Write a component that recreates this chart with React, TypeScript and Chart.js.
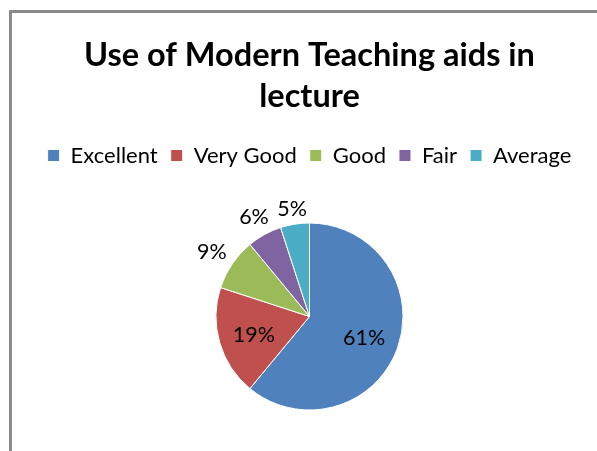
import React, { useEffect, useRef } from "react";
import { Chart, registerables } from "chart.js";

Chart.register(...registerables);

const categories = ["Excellent", "Very Good", "Good", "Fair", "Average"];
const values = [61, 19, 9, 6, 5];
const labelTexts = ["61%", "19%", "9%", "6%", "5%"];
const labelOutside = [false, false, true, true, true];
const colors = ["#4F81BD", "#C0504D", "#9BBB59", "#8064A2", "#4BACC6"];
const titleLines = ["Use of Modern Teaching aids in", "lecture"];

const FONT = "Lato, 'Liberation Sans', sans-serif";

const labelPlugin = {
  id: "sliceLabels",
  afterDatasetsDraw(chart: any) {
    const ctx = chart.ctx;
    const meta = chart.getDatasetMeta(0);
    ctx.save();
    ctx.font = `21.5px ${FONT}`;
    ctx.fillStyle = "#000";
    ctx.textAlign = "center";
    ctx.textBaseline = "middle";
    meta.data.forEach((arc: any, i: number) => {
      const p = arc.getProps(["x", "y", "startAngle", "endAngle", "outerRadius"], true);
      const mid = (p.startAngle + p.endAngle) / 2;
      const cx = Math.cos(mid);
      const cy = Math.sin(mid);
      const text = labelTexts[i];
      let d: number;
      if (labelOutside[i]) {
        const w = ctx.measureText(text).width;
        const h = 15;
        d = p.outerRadius + 8 + Math.abs(cx) * (w / 2) + Math.abs(cy) * (h / 2);
      } else {
        d = p.outerRadius * 0.62;
      }
      ctx.fillText(text, p.x + cx * d, p.y + cy * d + 2);
    });
    ctx.restore();
  },
};

export default function App() {
  const ref = useRef<HTMLCanvasElement | null>(null);
  useEffect(() => {
    if (!ref.current) return;
    const chart = new Chart(ref.current, {
      type: "pie",
      data: {
        labels: categories,
        datasets: [
          {
            data: values,
            backgroundColor: colors,
            borderColor: "#ffffff",
            borderWidth: 1,
            radius: 93.5,
          } as any,
        ],
      },
      options: {
        responsive: false,
        animation: false,
        layout: { padding: { top: 0, bottom: 36.5, left: 0, right: 0 } },
        plugins: {
          title: {
            display: true,
            text: titleLines,
            color: "#000",
            font: { family: FONT, size: 32.5, weight: "bold", lineHeight: "41px" } as any,
            padding: { top: 22, bottom: 14.5 },
          },
          legend: {
            display: true,
            position: "top",
            labels: {
              color: "#000",
              boxWidth: 12,
              boxHeight: 12,
              padding: 13,
              font: { family: FONT, size: 22 },
            },
          },
          tooltip: { enabled: false },
        },
      },
      plugins: [labelPlugin],
    });
    return () => chart.destroy();
  }, []);

  return (
    <div style={{ position: "fixed", left: 0, top: 0, width: 597, height: 451, overflow: "hidden", background: "#fff" }}>
      <div
        style={{
          position: "absolute",
          left: 9,
          top: 10,
          width: 640,
          height: 520,
          borderLeft: "3px solid #8a8a8a",
          borderTop: "3px solid #8a8a8a",
        }}
      >
        <canvas ref={ref} width={595} height={480} style={{ display: "block" }} />
      </div>
    </div>
  );
}
